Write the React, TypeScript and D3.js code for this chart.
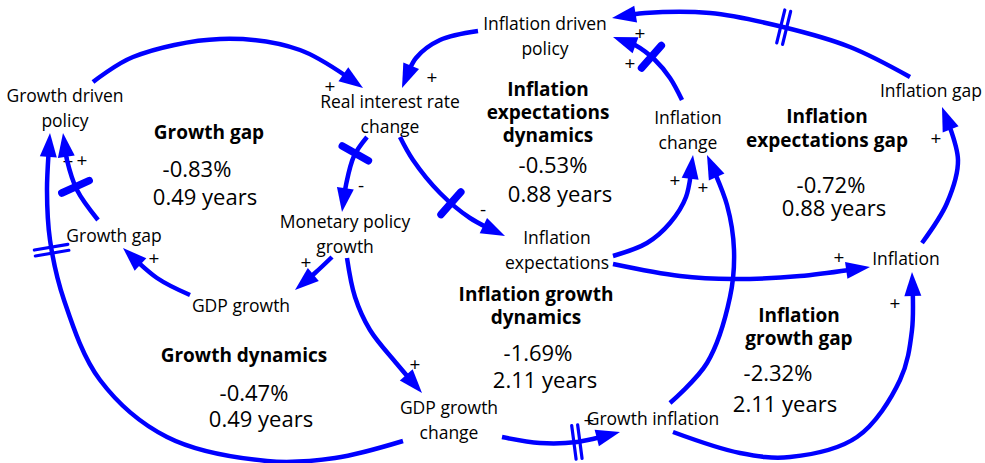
import React, { useEffect, useRef } from "react";
import * as d3 from "d3";

// ---------- DATA ----------
const variableIds = [
  "gdp_policy", "real_rate", "infl_policy", "infl_change", "infl_gap",
  "growth_gap", "monetary", "infl_exp", "gdp_growth", "inflation",
  "gdp_change", "growth_infl",
];
const variableLabels = [
  ["Growth driven", "policy"], ["Real interest rate", "change"], ["Inflation driven", "policy"],
  ["Inflation", "change"], ["Inflation gap"], ["Growth gap"], ["Monetary policy", "growth"],
  ["Inflation", "expectations"], ["GDP growth"], ["Inflation"], ["GDP growth", "change"],
  ["Growth inflation"],
];

const loopNames = [
  ["Growth gap"], ["Inflation", "expectations", "dynamics"], ["Inflation", "expectations gap"],
  ["Growth dynamics"], ["Inflation growth", "dynamics"], ["Inflation", "growth gap"],
];
const loopShares = ["-0.83%", "-0.53%", "-0.72%", "-0.47%", "-1.69%", "-2.32%"];
const loopPeriods = ["0.49 years", "0.88 years", "0.88 years", "0.49 years", "2.11 years", "2.11 years"];

const linkFrom = ["gdp_policy", "infl_policy", "real_rate", "real_rate", "monetary", "gdp_growth",
  "growth_gap", "gdp_change", "monetary", "gdp_change", "growth_infl", "growth_infl",
  "infl_exp", "infl_exp", "inflation", "infl_gap", "infl_change"];
const linkTo = ["real_rate", "real_rate", "monetary", "infl_exp", "gdp_growth", "growth_gap",
  "gdp_policy", "gdp_policy", "gdp_change", "growth_infl", "inflation", "infl_change",
  "infl_change", "inflation", "infl_gap", "infl_policy", "infl_policy"];
const linkPolarity = ["+", "+", "-", "-", "+", "+", "+", "+", "+", "+", "+", "+", "+", "+", "+", "+", "+"];
// 0 = no delay, 1 = single bar, 2 = double bar
const linkDelay = [0, 0, 1, 1, 0, 0, 1, 2, 0, 2, 0, 0, 0, 0, 0, 2, 1];

// ---------- LAYOUT ----------
const nodePos: Record<string, [number, number]> = {
  gdp_policy: [65, 102], real_rate: [390, 108], infl_policy: [545, 30], infl_change: [688, 124],
  infl_gap: [931, 97], growth_gap: [114, 242], monetary: [345, 228], infl_exp: [557, 244],
  gdp_growth: [241, 312], inflation: [906, 265], gdp_change: [449, 414], growth_infl: [653, 425],
};
const loopPos: [number, number, number, number, number, number, number][] = [
  // titleX, titleY, titleStep, shareX, shareY, periodX, periodY
  [209, 139, 23, 197, 177, 205, 205],
  [548, 96, 23, 553, 173, 560, 202],
  [827, 123, 24, 831, 193, 834, 216],
  [244, 362, 23, 254, 401, 261, 427],
  [536, 301, 22.5, 538, 361, 545, 388],
  [799, 322, 23, 778, 381, 785, 412],
];
const routes: [number, number][][] = [
  [[93, 82], [133, 57], [220, 39], [300, 50], [363, 88]],
  [[478, 31], [440, 40], [416, 58], [402, 88]],
  [[367, 137], [354, 156], [346, 185], [342, 212]],
  [[400, 137], [413, 160], [440, 193], [470, 218], [505, 236]],
  [[332, 257], [315, 273], [295, 290]],
  [[190, 295], [157, 278], [123, 248]],
  [[98, 220], [77, 190], [67, 160], [63, 133]],
  [[403, 441], [335, 458], [267, 461], [167, 437], [100, 380], [64, 300], [50, 240], [47, 190], [50, 133]],
  [[347, 258], [355, 297], [370, 330], [397, 364], [422, 393]],
  [[502, 437], [540, 443], [577, 442], [620, 432]],
  [[673, 432], [740, 453], [790, 457], [857, 437], [900, 380], [912, 330], [912, 272]],
  [[670, 403], [707, 363], [730, 297], [734, 250], [727, 205], [707, 155]],
  [[613, 256], [647, 243], [670, 223], [686, 197], [693, 155]],
  [[613, 264], [680, 276], [733, 279], [800, 276], [870, 267]],
  [[922, 243], [947, 203], [958, 160], [942, 107]],
  [[910, 77], [850, 47], [783, 27], [710, 13], [645, 13], [612, 18]],
  [[682, 100], [670, 78], [655, 60], [635, 45], [613, 37]],
];
const delayAt = [0, 0, 0.25, 0.57, 0, 0, 0.42, 0.8, 0, 0.63, 0, 0, 0, 0, 0, 0.44, 0.55];
const signPos: [number, number][] = [
  [330, 93], [432, 84], [361, 192], [483, 216], [306, 269], [154, 265], [82, 167], [68, 168],
  [415, 371], [589, 427], [895, 310], [703, 194], [675, 187], [839, 264], [936, 145], [640, 40], [630, 70],
];

const W = 985;
const H = 463;
const BLUE = "#0000FF";
const FONT = "'Open Sans', 'Noto Sans', sans-serif";

export default function App() {
  const ref = useRef<SVGSVGElement>(null);

  useEffect(() => {
    const svg = d3.select(ref.current);
    svg.selectAll("*").remove();

    // node labels
    const nodes = svg.append("g").attr("font-family", FONT).attr("font-size", 17.5).attr("fill", "#000");
    variableIds.forEach((id, i) => {
      const [x, y] = nodePos[id];
      variableLabels[i].forEach((ln, k) => {
        nodes.append("text").attr("x", x).attr("y", y + k * 24.5).attr("text-anchor", "middle").text(ln);
      });
    });

    // loop labels
    const loops = svg.append("g").attr("font-family", FONT).attr("fill", "#000");
    loopNames.forEach((lines, i) => {
      const [tx, ty, step, sx, sy, px, py] = loopPos[i];
      lines.forEach((ln, k) => {
        loops.append("text").attr("x", tx).attr("y", ty + k * step).attr("text-anchor", "middle")
          .attr("font-weight", "bold").attr("font-size", 19).text(ln);
      });
      loops.append("text").attr("x", sx).attr("y", sy).attr("text-anchor", "middle").attr("font-size", 22).text(loopShares[i]);
      loops.append("text").attr("x", px).attr("y", py).attr("text-anchor", "middle").attr("font-size", 22).text(loopPeriods[i]);
    });

    // polarity signs
    const signs = svg.append("g").attr("font-family", FONT).attr("font-size", 19).attr("fill", "#000");
    linkPolarity.forEach((p, i) => {
      const [x, y] = signPos[i];
      signs.append("text").attr("x", x).attr("y", y).attr("text-anchor", "middle").text(p);
    });

    // links
    const line = d3.line<[number, number]>().curve(d3.curveCatmullRom.alpha(0.5));
    const links = svg.append("g");
    const AH = 24;
    const AW = 8.5;
    linkFrom.forEach((_, i) => {
      const g = links.append("g");
      const path = g.append("path").attr("d", line(routes[i]) as string)
        .attr("fill", "none").attr("stroke", BLUE).attr("stroke-width", 4.5);
      const node = path.node() as SVGPathElement;
      const L = node.getTotalLength();
      path.attr("stroke-dasharray", `${L - AH + 3} ${L + 10}`);
      const tip = node.getPointAtLength(L);
      const base = node.getPointAtLength(L - AH);
      let dx = tip.x - base.x, dy = tip.y - base.y;
      const dl = Math.hypot(dx, dy) || 1;
      dx /= dl; dy /= dl;
      const bx = tip.x - dx * AH, by = tip.y - dy * AH;
      g.append("path")
        .attr("d", `M${tip.x},${tip.y}L${bx - dy * AW},${by + dx * AW}L${bx + dy * AW},${by - dx * AW}Z`)
        .attr("fill", BLUE);

      const dtype = linkDelay[i];
      if (dtype > 0) {
        const s = delayAt[i] * L;
        const p = node.getPointAtLength(s);
        const a = node.getPointAtLength(Math.max(0, s - 2));
        const b = node.getPointAtLength(Math.min(L, s + 2));
        let tx = b.x - a.x, ty = b.y - a.y;
        const tl = Math.hypot(tx, ty) || 1;
        tx /= tl; ty /= tl;
        const nx = -ty, ny = tx;
        if (dtype === 1) {
          const half = 15;
          g.append("line")
            .attr("x1", p.x - nx * half).attr("y1", p.y - ny * half)
            .attr("x2", p.x + nx * half).attr("y2", p.y + ny * half)
            .attr("stroke", BLUE).attr("stroke-width", 7.5).attr("stroke-linecap", "round");
        } else {
          const half = 17;
          [-3, 3].forEach((o) => {
            const cx = p.x + tx * o, cy = p.y + ty * o;
            g.append("line")
              .attr("x1", cx - nx * half).attr("y1", cy - ny * half)
              .attr("x2", cx + nx * half).attr("y2", cy + ny * half)
              .attr("stroke", BLUE).attr("stroke-width", 3.2).attr("stroke-linecap", "round");
          });
        }
      }
    });
  }, []);

  return (
    <svg
      ref={ref}
      width={W}
      height={H}
      viewBox={`0 0 ${W} ${H}`}
      style={{ position: "absolute", left: 0, top: 0, display: "block", background: "#fff" }}
    />
  );
}
